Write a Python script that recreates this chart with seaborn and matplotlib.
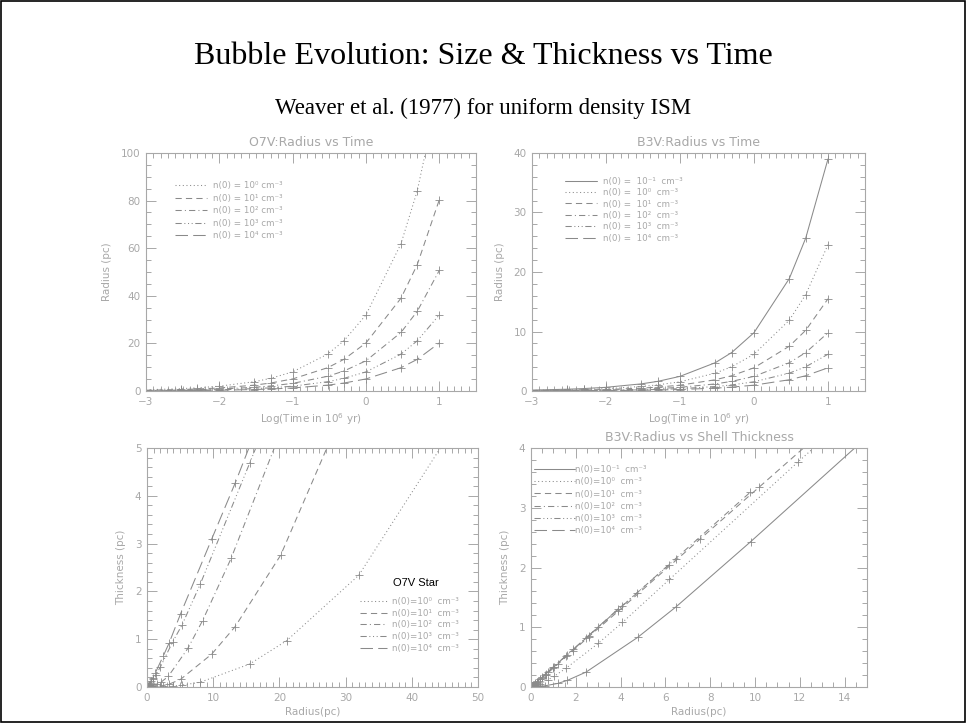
import numpy as np
import matplotlib
matplotlib.use("Agg")
import matplotlib.pyplot as plt
from matplotlib.lines import Line2D
from matplotlib.patches import Rectangle
from matplotlib.ticker import MultipleLocator
import seaborn as sns

nan = np.nan

# ---------------- data ----------------
time_myr = [0.001, 0.003, 0.005, 0.01, 0.03, 0.05, 0.1, 0.3, 0.5, 1, 3, 5, 10]

# O7V bubble radius (pc) for n(0) = 1e0 .. 1e4 cm^-3
o7_r_n0 = [0.51, 0.98, 1.33, 2.02, 3.90, 5.31, 8.04, 15.5, 21.1, 32.0, 61.9, 84.1, 127.4]
o7_r_n1 = [0.32, 0.62, 0.84, 1.27, 2.46, 3.35, 5.07, 9.79, 13.3, 20.2, 39.0, 53.1, 80.4]
o7_r_n2 = [0.20, 0.39, 0.53, 0.80, 1.55, 2.11, 3.20, 6.18, 8.40, 12.7, 24.6, 33.5, 50.7]
o7_r_n3 = [0.13, 0.25, 0.33, 0.51, 0.98, 1.33, 2.02, 3.90, 5.30, 8.04, 15.5, 21.1, 32.0]
o7_r_n4 = [0.08, 0.16, 0.21, 0.32, 0.62, 0.84, 1.27, 2.46, 3.34, 5.07, 9.79, 13.3, 20.2]

# B3V bubble radius (pc) for n(0) = 1e-1 .. 1e4 cm^-3
b3_r_nm1 = [0.155, 0.30, 0.41, 0.62, 1.20, 1.62, 2.46, 4.76, 6.47, 9.8, 18.9, 25.7, 39.0]
b3_r_n0 = [0.098, 0.19, 0.26, 0.39, 0.76, 1.03, 1.55, 3.00, 4.08, 6.18, 11.9, 16.2, 24.6]
b3_r_n1 = [0.062, 0.12, 0.16, 0.25, 0.48, 0.65, 0.98, 1.89, 2.57, 3.90, 7.53, 10.2, 15.5]
b3_r_n2 = [0.039, 0.075, 0.10, 0.16, 0.30, 0.41, 0.62, 1.19, 1.62, 2.46, 4.75, 6.46, 9.79]
b3_r_n3 = [0.025, 0.048, 0.065, 0.098, 0.19, 0.26, 0.39, 0.75, 1.02, 1.55, 3.00, 4.07, 6.18]
b3_r_n4 = [0.016, 0.030, 0.041, 0.062, 0.12, 0.16, 0.25, 0.48, 0.65, 0.98, 1.89, 2.57, 3.90]

# O7V shell thickness (pc); nan = beyond the plotted range
o7_th_n0 = [0.0, 0.001, 0.002, 0.005, 0.02, 0.04, 0.10, 0.48, 0.97, 2.34, 8.8, nan, nan]
o7_th_n1 = [0.0, 0.002, 0.003, 0.01, 0.03, 0.06, 0.16, 0.69, 1.26, 2.76, 8.8, nan, nan]
o7_th_n2 = [0.002, 0.005, 0.01, 0.02, 0.06, 0.10, 0.22, 0.81, 1.39, 2.69, 6.9, nan, nan]
o7_th_n3 = [0.01, 0.03, 0.04, 0.07, 0.17, 0.25, 0.42, 0.95, 1.30, 2.15, 4.68, 6.6, nan]
o7_th_n4 = [0.01, 0.02, 0.03, 0.05, 0.12, 0.18, 0.30, 0.65, 0.92, 1.53, 3.10, 4.26, 6.7]

# B3V shell thickness (pc)
b3_th_nm1 = [0.0, 0.01, 0.01, 0.02, 0.06, 0.11, 0.25, 0.83, 1.34, 2.43, 5.5, nan, nan]
b3_th_n0 = [0.01, 0.02, 0.03, 0.05, 0.12, 0.18, 0.31, 0.73, 1.08, 1.80, 3.76, 5.2, nan]
b3_th_n1 = [0.018, 0.035, 0.05, 0.07, 0.15, 0.20, 0.31, 0.61, 0.84, 1.27, 2.47, 3.35, 5.1]
b3_th_n2 = [0.013, 0.025, 0.033, 0.053, 0.10, 0.135, 0.205, 0.39, 0.54, 0.82, 1.58, 2.15, 3.26]
b3_th_n3 = [0.008, 0.016, 0.022, 0.033, 0.063, 0.087, 0.13, 0.25, 0.34, 0.52, 1.00, 1.36, 2.05]
b3_th_n4 = [0.005, 0.01, 0.014, 0.021, 0.04, 0.054, 0.084, 0.16, 0.22, 0.33, 0.63, 0.86, 1.31]

o7_exps = ["0", "1", "2", "3", "4"]
b3_exps = ["-1", "0", "1", "2", "3", "4"]

# ---------------- styling ----------------
sns.set_style("white")
plt.rcParams['font.family'] = ['DejaVu Sans']
plt.rcParams['mathtext.fontset'] = 'dejavusans'

AX_C = '#a8a8a8'
LINE_C = '#8a8a8a'
LW = 0.75
STY = {
    "-1": '-',
    "0": (0, (1, 2.5)),
    "1": (0, (6, 4)),
    "2": (0, (6, 3, 1, 3)),
    "3": (0, (6, 2.5, 1, 2.5, 1, 2.5, 1, 2.5)),
    "4": (0, (12, 5)),
}
SUP = str.maketrans("-0123456789", "⁻⁰¹²³⁴⁵⁶⁷⁸⁹")


def sup(s):
    return s.translate(SUP)


W, H = 966, 723
fig = plt.figure(figsize=(W / 100, H / 100), dpi=100)


def add_axes(l, r, t, b):
    return fig.add_axes([l / W, 1 - b / H, (r - l) / W, (b - t) / H])


def style_axes(ax, xlim, ylim, xmaj, xmin, ymaj, ymin, title, xlabel, ylabel):
    ax.set_xlim(*xlim)
    ax.set_ylim(*ylim)
    ax.xaxis.set_major_locator(MultipleLocator(xmaj))
    ax.xaxis.set_minor_locator(MultipleLocator(xmin))
    ax.yaxis.set_major_locator(MultipleLocator(ymaj))
    ax.yaxis.set_minor_locator(MultipleLocator(ymin))
    for sp in ax.spines.values():
        sp.set_visible(True)
        sp.set_color(AX_C)
        sp.set_linewidth(0.8)
    ax.tick_params(which='both', direction='in', top=True, right=True,
                   bottom=True, left=True, color=AX_C, labelcolor=AX_C,
                   labelsize=7.5, width=0.7)
    ax.tick_params(which='major', length=7, pad=4)
    ax.tick_params(which='minor', length=3.5)
    ax.set_title(title, color=AX_C, fontsize=9, pad=5)
    ax.set_xlabel(xlabel, color=AX_C, fontsize=7.5, labelpad=3)
    ax.set_ylabel(ylabel, color=AX_C, fontsize=7.5, labelpad=6)
    ax.grid(False)


def draw(ax, x, y, exp):
    x = np.asarray(x, float)
    y = np.asarray(y, float)
    ok = ~np.isnan(x) & ~np.isnan(y)
    sns.lineplot(x=x[ok], y=y[ok], ax=ax, color=LINE_C, linewidth=LW,
                 linestyle=STY[exp], marker='+', markersize=6,
                 markeredgewidth=0.6, markeredgecolor=LINE_C,
                 sort=False, estimator=None, legend=False)


def add_legend(ax, exps, labels, x, y, hl, tp, ls, fs):
    handles = [Line2D([0], [0], color=LINE_C, lw=LW, linestyle=STY[e]) for e in exps]
    leg = ax.legend(handles, labels, loc='upper left', bbox_to_anchor=(x, y),
                    frameon=False, fontsize=fs, handlelength=hl,
                    handletextpad=tp, labelspacing=ls, borderpad=0,
                    borderaxespad=0)
    for t in leg.get_texts():
        t.set_color(AX_C)
    return leg


ax1 = add_axes(146, 476, 153, 391)
ax2 = add_axes(532, 865, 153, 391)
ax3 = add_axes(147, 478, 448, 687)
ax4 = add_axes(531, 867, 448, 687)

logt = np.log10(time_myr)

# Panel 1: O7V radius vs time
for r, e in zip([o7_r_n0, o7_r_n1, o7_r_n2, o7_r_n3, o7_r_n4], o7_exps):
    draw(ax1, logt, r, e)
style_axes(ax1, (-3, 1.5), (0, 100), 1, 0.1, 20, 5,
           "O7V:Radius vs Time", "Log(Time in 10$^6$ yr)", "Radius (pc)")
add_legend(ax1, o7_exps, [f"n(0) = 10{sup(e)} cm⁻³" for e in o7_exps],
           0.088, 0.882, 3.6, 0.7, 0.4, 6.3)

# Panel 2: B3V radius vs time
for r, e in zip([b3_r_nm1, b3_r_n0, b3_r_n1, b3_r_n2, b3_r_n3, b3_r_n4], b3_exps):
    draw(ax2, logt, r, e)
style_axes(ax2, (-3, 1.5), (0, 40), 1, 0.1, 10, 2,
           "B3V:Radius vs Time", "Log(Time in 10$^6$ yr)", "Radius (pc)")
add_legend(ax2, b3_exps, [f"n(0) =  10{sup(e)}  cm⁻³" for e in b3_exps],
           0.10, 0.90, 3.6, 0.7, 0.27, 6.3)

# Panel 3: O7V radius vs thickness
for r, th, e in zip([o7_r_n0, o7_r_n1, o7_r_n2, o7_r_n3, o7_r_n4],
                    [o7_th_n0, o7_th_n1, o7_th_n2, o7_th_n3, o7_th_n4], o7_exps):
    draw(ax3, r, th, e)
style_axes(ax3, (0, 50), (0, 5), 10, 1, 1, 0.2,
           "", "Radius(pc)", "Thickness (pc)")
add_legend(ax3, o7_exps, [f"n(0)=10{sup(e)}  cm⁻³" for e in o7_exps],
           0.645, 0.376, 3.0, 0.6, 0.3, 6.3)
ax3.text(0.743, 0.435, "O7V Star", transform=ax3.transAxes, fontsize=8,
         family='Liberation Sans', color='black', va='center', ha='left')

# Panel 4: B3V radius vs thickness
for r, th, e in zip([b3_r_nm1, b3_r_n0, b3_r_n1, b3_r_n2, b3_r_n3, b3_r_n4],
                    [b3_th_nm1, b3_th_n0, b3_th_n1, b3_th_n2, b3_th_n3, b3_th_n4], b3_exps):
    draw(ax4, r, th, e)
style_axes(ax4, (0, 15), (0, 4), 2, 0.5, 1, 0.2,
           "B3V:Radius vs Shell Thickness", "Radius(pc)", "Thickness (pc)")
add_legend(ax4, b3_exps, [f"n(0)=10{sup(e)}  cm⁻³" for e in b3_exps],
           0.01, 0.928, 4.6, 0.0, 0.36, 6.3)

# Titles
fig.text(0.5, 1 - 56 / H, "Bubble Evolution: Size & Thickness vs Time",
         ha='center', va='center', fontsize=23, family='Liberation Serif', color='black')
fig.text(0.5, 1 - 108 / H, "Weaver et al. (1977) for uniform density ISM",
         ha='center', va='center', fontsize=16.5, family='Liberation Serif', color='black')

# slide frame
fig.patches.append(Rectangle((0.0015, 0.0015), 0.997, 0.997, transform=fig.transFigure,
                             fill=False, edgecolor='black', linewidth=1.2))

fig.savefig("out.png", dpi=100, facecolor='white')
